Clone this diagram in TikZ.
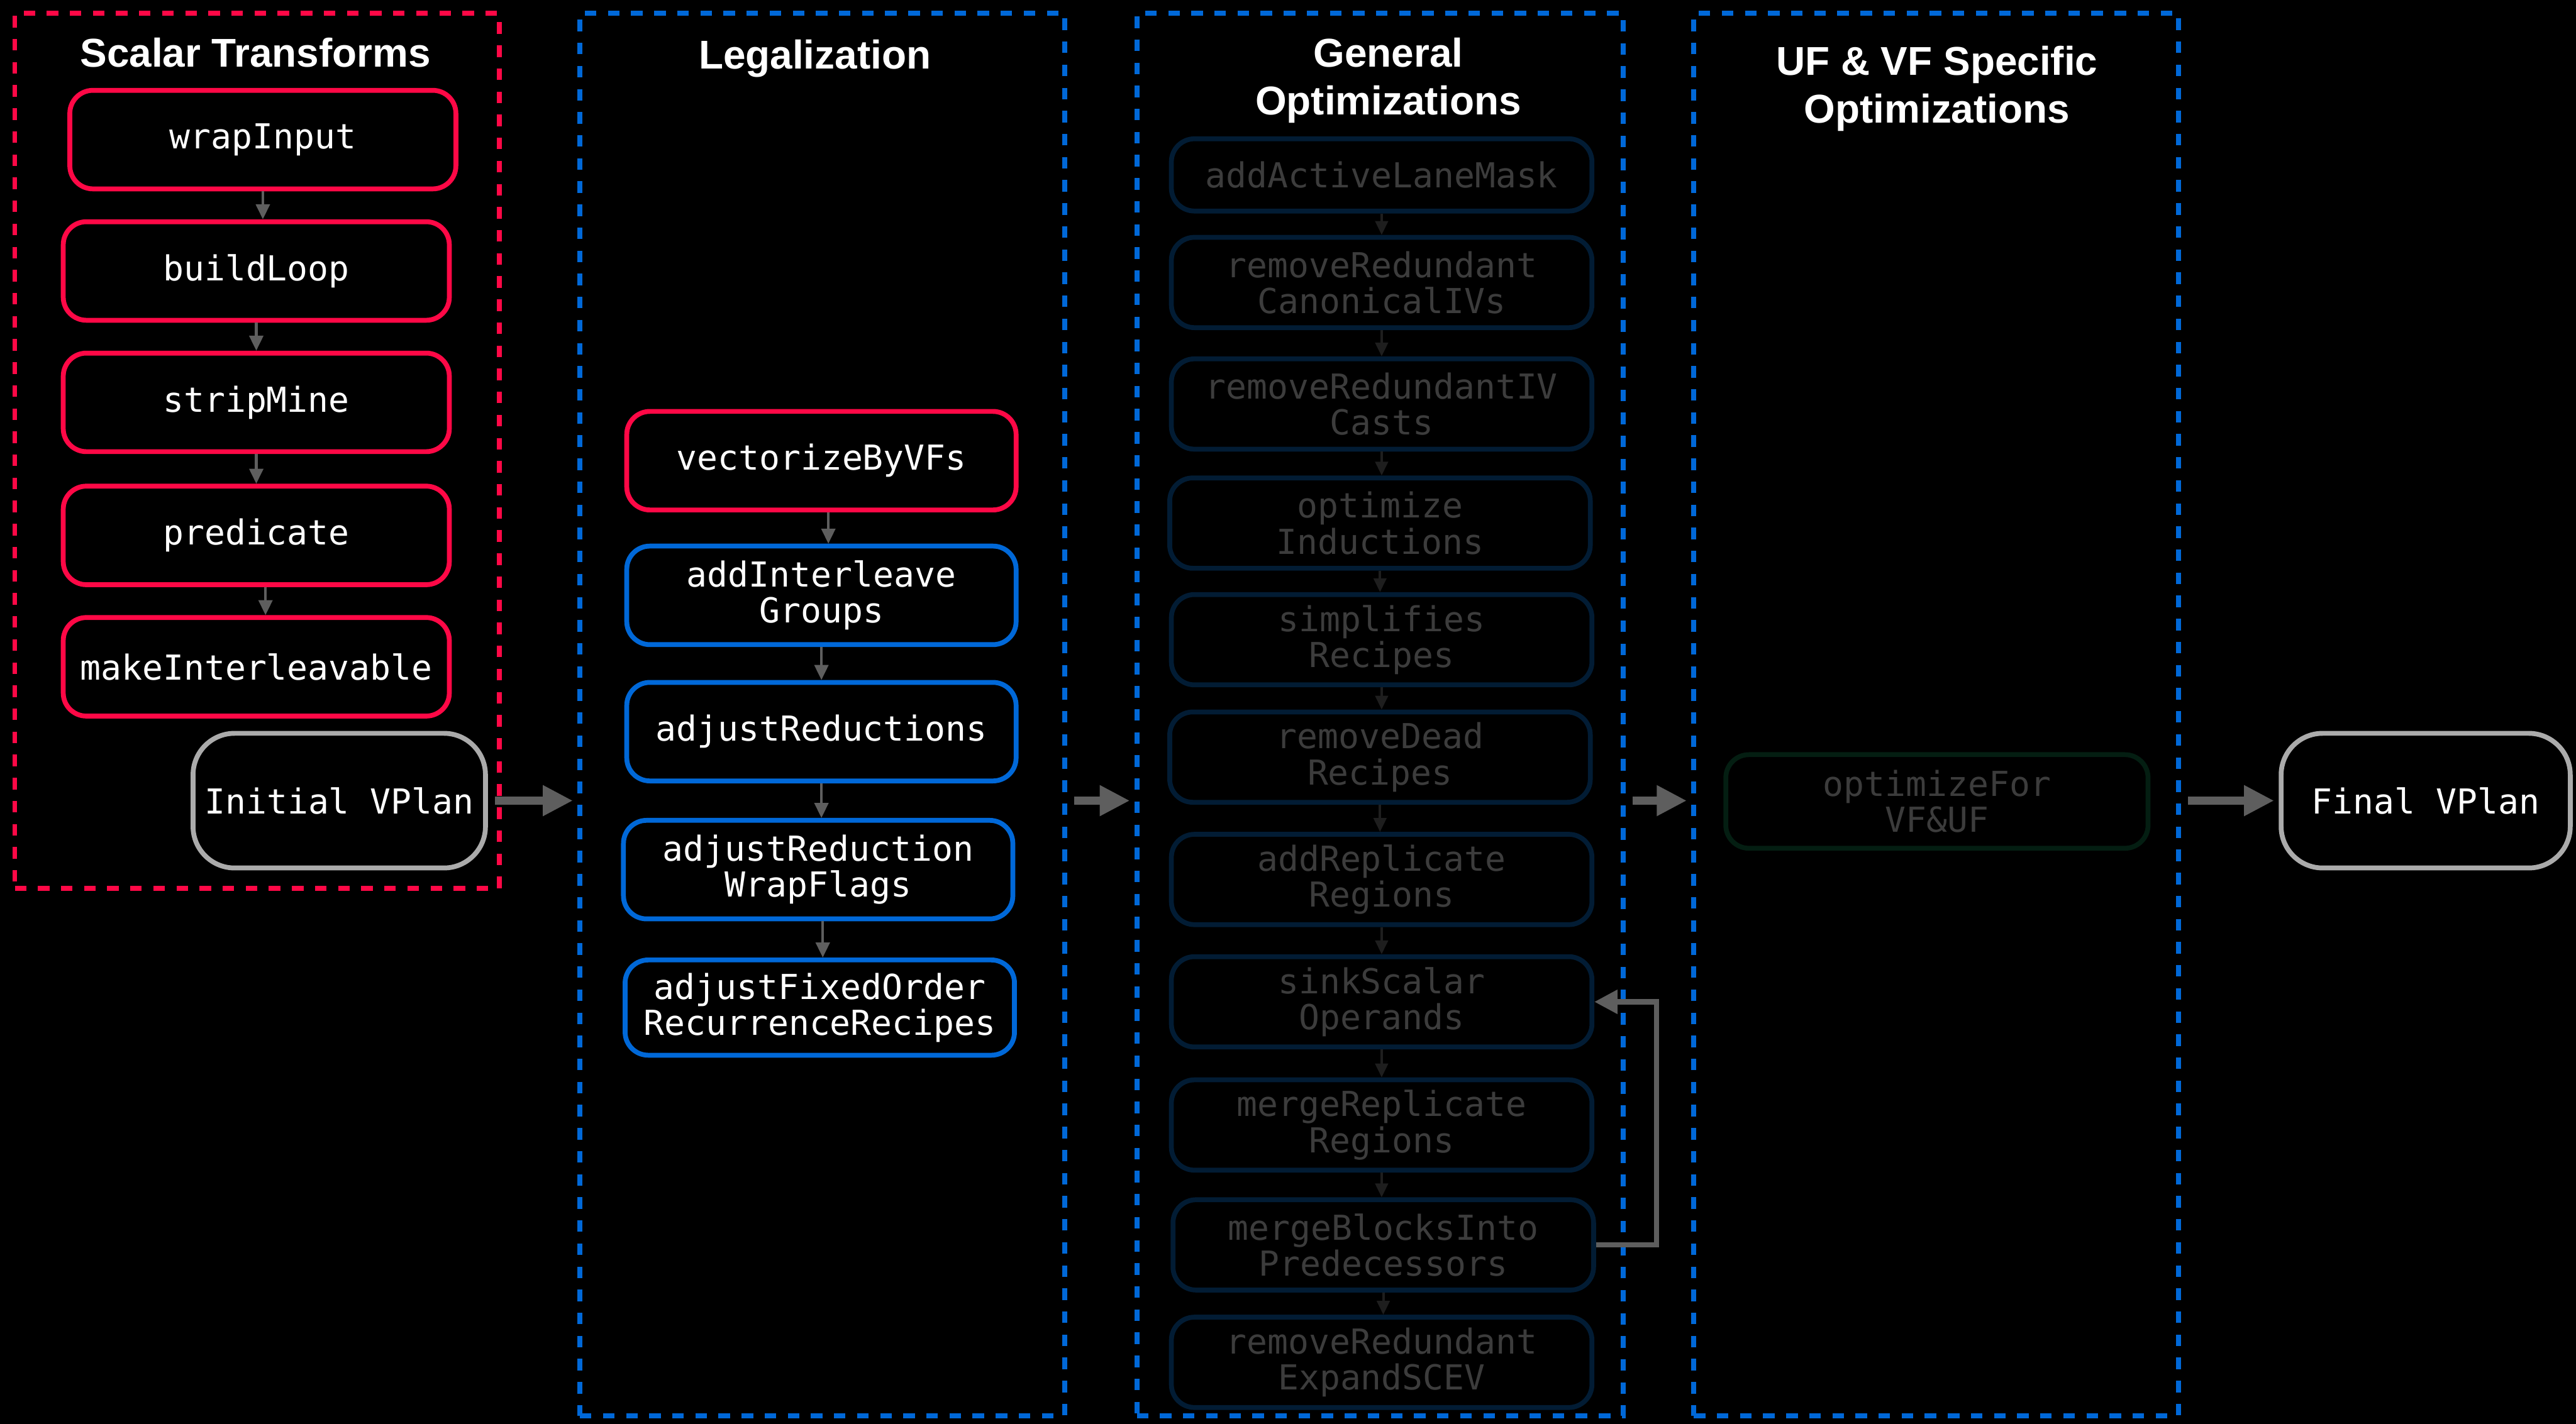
\documentclass[tikz,border=0pt]{standalone}
\usepackage{fontspec}
\setmainfont{Liberation Sans}
\setsansfont{Liberation Sans}
\setmonofont{DejaVu Sans Mono}
\usetikzlibrary{arrows.meta}

\definecolor{passred}{RGB}{255,8,70}
\definecolor{passblue}{RGB}{0,104,216}
\definecolor{plangrey}{RGB}{171,171,171}
\definecolor{flowgrey}{RGB}{94,94,94}
\definecolor{dimnavy}{RGB}{2,28,52}
\definecolor{dimgreen}{RGB}{4,30,18}
\definecolor{dimtext}{RGB}{60,60,60}
\definecolor{dimflow}{RGB}{30,30,30}

\newcommand{\passfont}{\ttfamily\fontsize{14.9pt}{15.6pt}\selectfont}
\newcommand{\headfont}{\sffamily\bfseries\fontsize{17.4pt}{20.6pt}\selectfont}

\begin{document}
\begin{tikzpicture}[x=0.25mm, y=-0.25mm,
  stage/.style={draw=#1, line width=2.1pt, dash pattern=on 5pt off 5pt,
    inner sep=0pt},
  head/.style={text=white, font=\headfont, align=center, inner sep=0pt},
  pass/.style={draw=#1, rounded corners=10pt, line width=2.1pt, fill=black,
    text=white, font=\passfont, align=center, inner sep=0pt},
  dimpass/.style={pass=dimnavy, text=dimtext, minimum width=64mm,
    minimum height=13.75mm},
  plan/.style={draw=plangrey, rounded corners=18pt, line width=2.1pt,
    fill=black, text=white, font=\passfont, inner sep=0pt,
    minimum width=44.5mm, minimum height=20.5mm},
  flow/.style={draw=flowgrey, line width=1.1pt,
    -{Triangle[length=6.5pt, width=6pt]}},
  dimflowline/.style={draw=dimflow, line width=1.1pt,
    -{Triangle[length=6pt, width=5.5pt]}},
  bigflow/.style={draw=flowgrey, line width=3.6pt,
    -{Triangle[length=13pt, width=12.5pt]}, shorten <=3pt, shorten >=2pt},
  loopflow/.style={draw=flowgrey, line width=2.2pt,
    -{Triangle[length=10pt, width=10pt]}}
]
% canvas
\fill[black] (0,0) rectangle (1568,867);
\useasboundingbox (0,0) rectangle (1568,867);

% stage frames
\node[stage=passred, minimum width=73.75mm, minimum height=133.25mm] (scal) at (156.5,274.5) {};
\node[stage=passblue, minimum width=73.75mm, minimum height=213.5mm] (legal) at (500.5,435) {};
\node[stage=passblue, minimum width=74mm, minimum height=213.5mm] (genopt) at (840,435) {};
\node[stage=passblue, minimum width=73.75mm, minimum height=213.5mm] (ufvf) at (1178.5,435) {};

% stage titles
\node[head] (tscal) at (155.5,32) {Scalar Transforms};
\node[head] (tlegal) at (496,35.5) {Legalization};
\node[head] (tgen) at (845,49) {General\\Optimizations};
\node[head] (tufvf) at (1179,54) {UF \& VF Specific\\Optimizations};

% scalar transforms
\begin{scope}[every node/.append style={minimum width=58.75mm, minimum height=15mm}]
\node[pass=passred] (wi) at (160,85) {wrapInput};
\node[pass=passred] (bl) at (156,165) {buildLoop};
\node[pass=passred] (sm) at (156,245) {stripMine};
\node[pass=passred] (pr) at (156,326) {predicate};
\node[pass=passred] (mi) at (156,406) {makeInterleavable};
\end{scope}
\node[plan] (ivp) at (206.5,487.5) {Initial VPlan};

\draw[flow] (wi.south) -- (wi.south |- bl.north);
\draw[flow] (bl.south) -- (bl.south |- sm.north);
\draw[flow] (sm.south) -- (sm.south |- pr.north);
\draw[flow] ([xshift=4]pr.south) -- ([xshift=4]pr.south |- mi.north);

% legalization
\begin{scope}[every node/.append style={minimum width=59.25mm, minimum height=15mm}]
\node[pass=passred] (vbv) at (500,280.5) {vectorizeByVFs};
\node[pass=passblue] (aig) at (500,362.5) {addInterleave\\Groups};
\node[pass=passblue] (ar) at (500,445.5) {adjustReductions};
\node[pass=passblue] (arw) at (498,529.5) {adjustReduction\\WrapFlags};
\node[pass=passblue, minimum height=14.5mm] (afo) at (499,613.5) {adjustFixedOrder\\RecurrenceRecipes};
\end{scope}

\draw[flow] ([xshift=3]vbv.south) -- ([xshift=3]vbv.south |- aig.north);
\draw[flow] (aig.south) -- (aig.south |- ar.north);
\draw[flow] (ar.south) -- (ar.south |- arw.north);
\draw[flow] ([xshift=2]arw.south) -- ([xshift=2]arw.south |- afo.north);

% general optimizations
\node[dimpass, minimum height=11mm] (alm) at (841,106.5) {addActiveLaneMask};
\node[dimpass] (rrc) at (841,172) {removeRedundant\\CanonicalIVs};
\node[dimpass] (rri) at (841,246) {removeRedundantIV\\Casts};
\node[dimpass] (oi) at (840,318.5) {optimize\\Inductions};
\node[dimpass] (sr) at (841,389.5) {simplifies\\Recipes};
\node[dimpass] (rdr) at (840,461) {removeDead\\Recipes};
\node[dimpass] (arr) at (841,535.5) {addReplicate\\Regions};
\node[dimpass] (sso) at (841,610) {sinkScalar\\Operands};
\node[dimpass] (mrr) at (841,685) {mergeReplicate\\Regions};
\node[dimpass] (mbp) at (842,758) {mergeBlocksInto\\Predecessors};
\node[dimpass] (rre) at (841,829.5) {removeRedundant\\ExpandSCEV};

\foreach \a/\b in {alm/rrc, rrc/rri, rri/oi, oi/sr, sr/rdr, rdr/arr, arr/sso, sso/mrr, mrr/mbp, mbp/rre}
  \draw[dimflowline] (\a.south) -- (\a.south |- \b.north);

% feedback from block merging to operand sinking
\draw[loopflow] (mbp.east) -- ++(37,0) |- (sso.east);

% UF & VF specific
\node[pass=dimgreen, text=dimtext, minimum width=64.25mm, minimum height=14.25mm] (ofv) at (1179,488) {optimizeFor\\VF\&UF};

\node[plan, minimum width=44mm] (fvp) at (1476.5,487.5) {Final VPlan};

% hand-over between stages
\draw[bigflow] (ivp.east) -- (legal.west |- ivp.east);
\draw[bigflow] (legal.east |- ivp.east) -- (genopt.west |- ivp.east);
\draw[bigflow] (genopt.east |- ivp.east) -- (ufvf.west |- ivp.east);
\draw[bigflow] (ufvf.east |- ivp.east) -- (fvp.west);
\end{tikzpicture}
\end{document}
